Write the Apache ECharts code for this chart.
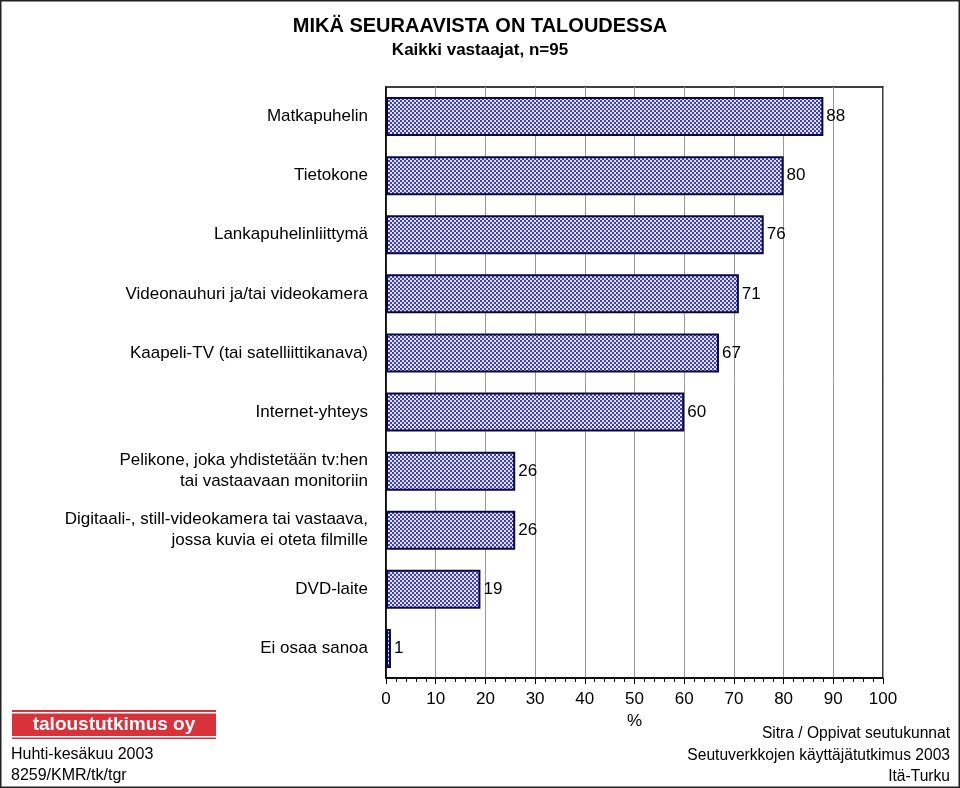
<!DOCTYPE html>
<html><head><meta charset="utf-8">
<script src="https://cdn.jsdelivr.net/npm/echarts@6/dist/echarts.min.js"></script>
<style>html,body{margin:0;padding:0;background:#fff}#c{width:960px;height:788px}</style>
</head><body><div id="c"></div>
<script>
const categories = ["Matkapuhelin","Tietokone","Lankapuhelinliittymä","Videonauhuri ja/tai videokamera","Kaapeli-TV (tai satelliittikanava)","Internet-yhteys","Pelikone, joka yhdistetään tv:hen\ntai vastaavaan monitoriin","Digitaali-, still-videokamera tai vastaava,\njossa kuvia ei oteta filmille","DVD-laite","Ei osaa sanoa"];
const values = [88,80,76,71,67,60,26,26,19,1];
const xTicks = [0,10,20,30,40,50,60,70,80,90,100];

const pc = document.createElement('canvas');
pc.width = 4; pc.height = 4;
const g = pc.getContext('2d');
g.fillStyle = '#e4e4fc'; g.fillRect(0,0,4,4);
g.fillStyle = '#3c3cd4';
g.fillRect(0,0,2,2); g.fillRect(2,2,2,2);

const F = '"Liberation Sans", Arial, sans-serif';
const chart = echarts.init(document.getElementById('c'));
chart.setOption({
  animation:false,
  backgroundColor:'#fff',
  title:[
    {text:'MIKÄ SEURAAVISTA ON TALOUDESSA', left:'center', top:11, textStyle:{fontFamily:F,fontSize:20,fontWeight:'bold',color:'#000'}},
    {text:'Kaikki vastaajat, n=95', left:'center', top:37, textStyle:{fontFamily:F,fontSize:17,fontWeight:'bold',color:'#000'}}
  ],
  grid:{left:386, right:77, top:87, bottom:110, show:true, borderColor:'#000', borderWidth:1.5},
  xAxis:{type:'value', min:0, max:100, interval:10,
    name:'%', nameLocation:'middle', nameGap:31, nameTextStyle:{fontFamily:F,fontSize:17,color:'#000'},
    axisLine:{show:true,lineStyle:{color:'#000',width:1.5}},
    axisTick:{show:true,length:6,inside:false,lineStyle:{color:'#000'}},
    minorTick:{show:true,splitNumber:5,length:4,lineStyle:{color:'#000'}},
    axisLabel:{fontFamily:F,fontSize:17,color:'#000',margin:13,formatter:v=>xTicks.includes(v)?String(v):''},
    splitLine:{show:true,lineStyle:{color:'#999',width:1}}
  },
  yAxis:{type:'category', data:categories, inverse:true,
    axisLine:{show:true,lineStyle:{color:'#000',width:1.5}},
    axisTick:{show:false},
    axisLabel:{fontFamily:F,fontSize:17,color:'#000',margin:18,lineHeight:21,align:'right',padding:[6,0,0,0]}
  },
  series:[{type:'bar', data:values, barWidth:39,
    itemStyle:{color:{image:pc,repeat:'repeat'}, borderColor:'#0a0a3a', borderWidth:2},
    label:{show:true, position:'right', distance:3, fontFamily:F, fontSize:17, color:'#000', padding:[5,0,0,0]}
  }],
  graphic:[
    {type:'rect', shape:{x:0.5,y:0.5,width:959,height:787}, style:{fill:null,stroke:'#222',lineWidth:2}, silent:true},
    {type:'rect', shape:{x:12,y:710,width:204,height:29}, style:{fill:'#d9323a'}},
    {type:'rect', shape:{x:12,y:712,width:204,height:1.5}, style:{fill:'#fff'}},
    {type:'rect', shape:{x:12,y:736,width:204,height:1.5}, style:{fill:'#fff'}},
    {type:'text', x:114, y:725, style:{text:'taloustutkimus oy', fill:'#fff', font:'bold 19px '+F, textAlign:'center', textVerticalAlign:'middle'}},
    {type:'text', x:11, y:744, style:{text:'Huhti-kesäkuu 2003\n8259/KMR/tk/tgr', fill:'#000', font:'16px '+F, lineHeight:21, textAlign:'left'}},
    {type:'text', x:950, y:723, style:{text:'Sitra / Oppivat seutukunnat\nSeutuverkkojen käyttäjätutkimus 2003\nItä-Turku', fill:'#000', font:'15.6px '+F, lineHeight:21.5, textAlign:'right'}}
  ]
});
</script></body></html>
